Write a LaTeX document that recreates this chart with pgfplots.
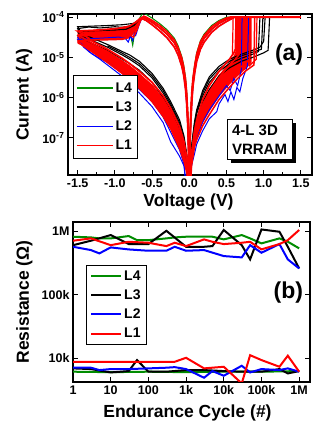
\documentclass[border=0pt]{standalone}
\usepackage{fontspec}
\setmainfont{Liberation Sans}
\usepackage{pgfplots}
\pgfplotsset{compat=1.18}
\usetikzlibrary{shadows}
\definecolor{cgreen}{RGB}{0,140,0}
\definecolor{cblue}{RGB}{0,0,255}
\definecolor{cred}{RGB}{255,0,0}
\tikzset{lbl/.style={font=\fontsize{17.5}{19}\selectfont\bfseries, anchor=center}}
\pgfplotsset{
  common/.style={
    scale only axis,
    axis line style={line width=1.8pt},
    tick align=inside,
    major tick length=5pt,
    minor tick length=3pt,
    every tick/.style={black, line width=1pt},
    tick label style={font=\fontsize{12.5}{14}\selectfont\bfseries},
    legend cell align=left,
  },
}
\begin{document}
\begin{tikzpicture}
\path[use as bounding box] (0pt,0pt) rectangle (329pt,426pt);
% ---------------- panel (a) ----------------
\begin{axis}[common,
  at={(68pt,251pt)}, anchor=south west, width=244pt, height=161pt,
  xmin=-1.63, xmax=1.65, ymode=log, ymin=1.2e-8, ymax=1.2e-4,
  xtick={-1.5,-1,-0.5,0,0.5,1,1.5},
  xticklabels={-1.5,-1.0,-0.5,0.0,0.5,1.0,1.5},
  minor xtick={-1.25,-0.75,-0.25,0.25,0.75,1.25},
  ytick={1e-7,1e-6,1e-5,1e-4},
  yticklabels={10\textsuperscript{-7},10\textsuperscript{-6},10\textsuperscript{-5},10\textsuperscript{-4}},
  yminorticks=false,
  xlabel={Voltage (V)}, ylabel={Current (A)},
  every axis x label/.style={at={(axis description cs:0.494,-0.168)}, lbl},
  every axis y label/.style={at={(axis description cs:-0.18,0.5)}, rotate=90, lbl},
  legend style={at={(axis description cs:0.02,0.62)}, anchor=north west,
    font=\fontsize{14}{15}\selectfont\bfseries, row sep=4pt, inner xsep=3pt, inner ysep=5pt},
  legend image code/.code={\draw[#1] (0pt,0pt) -- (36pt,0pt);},
]
\addlegendimage{color=cgreen, draw=cgreen, line width=1.6pt}\addlegendentry{L4}
\addlegendimage{color=black, draw=black, line width=1.6pt}\addlegendentry{L3}
\addlegendimage{color=cblue, draw=cblue, line width=1.6pt}\addlegendentry{L2}
\addlegendimage{color=cred, draw=cred, line width=1.6pt}\addlegendentry{L1}
% green (L4)
\addplot[cgreen, line width=1pt, forget plot] coordinates {
(0,1e-9) (-0.01,1.3e-7) (-0.02,4.5e-7) (-0.035,1.5e-6) (-0.05,3.2e-6) (-0.075,6.5e-6) (-0.1,1.05e-5) (-0.15,1.95e-5) (-0.2,3e-5) (-0.3,4.9e-5) (-0.4,7e-5) (-0.5,9.5e-5) (-0.58,1.18e-4) (-0.62,1.3e-4)
(-0.66,1e-4) (-0.72,6e-5) (-0.76,2e-5) (-0.78,3e-5) (-0.85,4e-5) (-1.0,4e-5) (-1.5,3.5e-5)
(-1.45,2.8e-5) (-1.3,1.9e-5) (-1.1,1.2e-5) (-0.9,6.8e-6) (-0.8,5e-6) (-0.67,3.1e-6) (-0.5,1.6e-6) (-0.35,7e-7) (-0.25,3.5e-7) (-0.13,1.2e-7) (-0.07,5e-8) (-0.03,2e-8) (0,1e-9)
(0.03,3e-8) (0.07,9e-8) (0.1,1.6e-7) (0.18,4.5e-7) (0.27,9.5e-7) (0.4,2.2e-6) (0.47,5e-6) (0.5,3e-6) (0.65,7e-6) (0.7,1e-5) (0.71,1e-4) (1.5,1e-4)
(0.5,1e-4) (0.4,8.3e-5) (0.3,6.2e-5) (0.2,3.8e-5) (0.15,2.6e-5) (0.1,1.3e-5) (0.075,7e-6) (0.05,3.2e-6) (0.035,1.5e-6) (0.02,4.5e-7) (0.01,1.2e-7) (0,1e-9)
};
% red filled bands (drawn under the individual lines)
\addplot[fill=cred, draw=none, forget plot] coordinates {
(-1.5,4.8e-5) (-1.2,4.9e-5) (-1.0,5.2e-5) (-0.85,5.8e-5) (-0.75,6.8e-5) (-0.68,8.5e-5) (-0.63,1e-4)
(-0.66,7.5e-5) (-0.72,4.5e-5) (-0.8,3e-5) (-0.9,2.7e-5) (-1.2,2.6e-5) (-1.5,2.4e-5)} -- cycle;
\addplot[fill=cred, draw=none, forget plot] coordinates {
(-1.5,3.6e-5) (-1.3,2.3e-5) (-1.1,1.45e-5) (-0.9,8.5e-6) (-0.8,6.3e-6) (-0.67,4e-6) (-0.5,2.1e-6) (-0.35,9.5e-7) (-0.25,4.8e-7) (-0.13,1.6e-7) (-0.07,7e-8) (-0.03,2.7e-8) (-0.01,1e-8)
(-0.03,1.3e-8) (-0.07,2.6e-8) (-0.13,5.5e-8) (-0.25,1.7e-7) (-0.35,3.4e-7) (-0.5,8e-7) (-0.67,1.7e-6) (-0.8,2.8e-6) (-0.9,4e-6) (-1.1,7.5e-6) (-1.3,1.35e-5) (-1.45,2e-5) (-1.5,2.2e-5)} -- cycle;
\addplot[fill=cred, draw=none, forget plot] coordinates {
(0.01,1e-8) (0.03,3.5e-8) (0.07,1.3e-7) (0.1,2.4e-7) (0.18,7.5e-7) (0.27,1.6e-6) (0.4,3.7e-6) (0.54,7.5e-6) (0.6,1.1e-5) (0.62,1.4e-5)
(0.63,1e-4) (0.84,1e-4) (0.84,7.5e-6) (0.75,5e-6) (0.65,3.4e-6) (0.54,2.1e-6) (0.4,1.05e-6) (0.27,4.5e-7) (0.18,2.3e-7) (0.1,1e-7) (0.07,6.5e-8) (0.03,2.2e-8) (0.01,1e-8)} -- cycle;
% black (L3)
\addplot[black, line width=1.1pt, forget plot] coordinates {
(0,1e-9) (-0.01,8e-8) (-0.02,3e-7) (-0.035,1e-6) (-0.05,2.2e-6) (-0.075,4.8e-6) (-0.1,8e-6) (-0.15,1.5e-5) (-0.2,2.3e-5) (-0.3,3.8e-5) (-0.4,5.5e-5) (-0.5,7.5e-5) (-0.58,9.2e-5) (-0.63,1e-4)
(-0.68,8.5e-5) (-0.75,7e-5) (-0.9,6.5e-5) (-1.1,6.2e-5) (-1.3,6e-5) (-1.5,5.8e-5)
(-1.45,4e-5) (-1.3,3e-5) (-1.1,2.1e-5) (-0.9,1.4e-5) (-0.8,1.15e-5) (-0.67,8e-6) (-0.5,4e-6) (-0.35,1.7e-6) (-0.25,8e-7) (-0.13,2.8e-7) (-0.07,1.1e-7) (-0.03,3.5e-8) (0,1e-9)
(0.03,6e-8) (0.07,2.5e-7) (0.1,5e-7) (0.18,1.5e-6) (0.27,3.3e-6) (0.4,6e-6) (0.54,9e-6) (0.7,1.2e-5) (0.85,1.5e-5) (0.95,1.8e-5) (1.0,2.5e-5) (1.02,1e-4) (1.5,1e-4)
(0.58,1e-4) (0.5,8.8e-5) (0.4,7e-5) (0.3,5e-5) (0.2,3e-5) (0.15,2e-5) (0.1,1e-5) (0.075,5.5e-6) (0.05,2.5e-6) (0.035,1.1e-6) (0.02,3e-7) (0.01,8e-8) (0,1e-9)
};
\addplot[black, line width=1.1pt, forget plot] coordinates {
(-0.63,1e-4) (-0.7,7e-5) (-0.8,6e-5) (-0.9,5.6e-5) (-1.0,5.8e-5) (-1.2,5.4e-5) (-1.35,5.7e-5) (-1.5,5.2e-5)
(-1.45,3.5e-5) (-1.3,2.6e-5) (-1.1,1.8e-5) (-0.9,1.15e-5) (-0.8,9e-6) (-0.67,6.2e-6) (-0.5,3.1e-6) (-0.35,1.3e-6) (-0.25,6.2e-7) (-0.13,2.1e-7) (-0.07,8.5e-8) (-0.03,3e-8) (0,1e-9)
(0.03,5e-8) (0.07,2e-7) (0.1,4e-7) (0.18,1.1e-6) (0.27,2.4e-6) (0.4,4.5e-6) (0.54,7e-6) (0.7,9.5e-6) (0.85,1.2e-5) (0.93,1.4e-5) (0.95,1e-4) (1.5,1e-4)
};
\addplot[black, line width=1.1pt, forget plot] coordinates {
(-0.63,1e-4) (-0.72,6.5e-5) (-0.85,5e-5) (-1.0,4.8e-5) (-1.3,4.6e-5) (-1.5,4.4e-5)
(-1.45,3.1e-5) (-1.3,2.2e-5) (-1.1,1.5e-5) (-0.9,9e-6) (-0.8,7e-6) (-0.67,4.8e-6) (-0.5,2.4e-6) (-0.35,1e-6) (-0.25,4.8e-7) (-0.13,1.6e-7) (-0.07,7e-8) (-0.03,2.5e-8) (0,1e-9)
(0.03,4e-8) (0.07,1.5e-7) (0.1,3e-7) (0.18,8e-7) (0.27,1.6e-6) (0.4,3.5e-6) (0.54,5.5e-6) (0.7,8e-6) (0.85,1e-5) (1.0,1.3e-5) (1.06,1.5e-5) (1.08,1e-4) (1.5,1e-4)
};
\addplot[black, line width=1.1pt, forget plot] coordinates {
(-1.1,1.95e-5) (-0.9,1.27e-5) (-0.8,1e-5) (-0.67,7e-6) (-0.5,3.5e-6) (-0.35,1.5e-6) (-0.25,7e-7) (-0.13,2.4e-7) (-0.07,9.5e-8) (-0.03,3.2e-8) (0,1e-9)
(0.03,5.5e-8) (0.07,2.2e-7) (0.1,4.5e-7) (0.18,1.3e-6) (0.27,2.9e-6) (0.4,5.2e-6) (0.54,8e-6) (0.7,1.1e-5) (0.85,1.35e-5) (0.97,1.6e-5) (0.99,1e-4)
};
% blue (L2)
\addplot[cblue, line width=1pt, forget plot] coordinates {
(0,1e-9) (-0.01,5e-8) (-0.02,2e-7) (-0.035,7e-7) (-0.05,1.6e-6) (-0.075,3.6e-6) (-0.1,6e-6) (-0.15,1.15e-5) (-0.2,1.8e-5) (-0.3,3.1e-5) (-0.4,4.6e-5) (-0.5,6.5e-5) (-0.58,8.3e-5) (-0.64,9.3e-5)
(-0.68,6e-5) (-0.72,3.5e-5) (-0.74,4e-5) (-0.76,2.6e-5) (-0.79,3.5e-5) (-0.82,2.4e-5) (-0.86,3e-5) (-0.95,3.2e-5) (-1.2,3e-5) (-1.5,2.8e-5)
(-1.45,2.2e-5) (-1.35,1.4e-5) (-1.2,9e-6) (-1.1,6.5e-6) (-0.9,3.4e-6) (-0.67,1.3e-6) (-0.5,6e-7) (-0.35,2.4e-7) (-0.25,8e-8) (-0.13,3.5e-8) (-0.07,2e-8) (0,1e-9)
(0.03,2e-8) (0.07,4e-8) (0.1,7e-8) (0.18,1.5e-7) (0.27,3e-7) (0.37,4.5e-7) (0.4,7e-7) (0.48,1.2e-6) (0.52,8e-7) (0.56,1.4e-6) (0.6,9e-7) (0.64,1.8e-6) (0.68,1.4e-6) (0.72,3e-6) (0.78,6e-6) (0.8,1e-4) (1.5,1e-4)
(0.61,1e-4) (0.5,7.8e-5) (0.4,6e-5) (0.3,4.2e-5) (0.2,2.4e-5) (0.15,1.6e-5) (0.1,8e-6) (0.075,4.3e-6) (0.05,1.9e-6) (0.035,8e-7) (0.02,2.2e-7) (0.01,6e-8) (0,1e-9)
};
\addplot[cblue, line width=1pt, forget plot] coordinates {
(-1.5,3.2e-5) (-1.42,1.8e-5) (-1.3,1.2e-5) (-1.1,7.5e-6) (-0.9,4e-6) (-0.67,1.6e-6) (-0.5,8e-7) (-0.35,3.3e-7) (-0.25,1.4e-7) (-0.13,5e-8) (-0.07,2.2e-8) (0,1e-9)
(0.03,2.5e-8) (0.07,6e-8) (0.1,1e-7) (0.18,2.5e-7) (0.27,5e-7) (0.4,1.1e-6) (0.5,2e-6) (0.55,1.5e-6) (0.6,3e-6) (0.65,2e-6) (0.7,5e-6) (0.71,1e-4)
};
% red (L1)
\addplot[cred, line width=1.7pt, forget plot] coordinates {
(0,1e-9) (-0.01,8e-8) (-0.02,3e-7) (-0.035,1e-6) (-0.05,2.2e-6) (-0.075,4.8e-6) (-0.1,8e-6) (-0.15,1.5e-5) (-0.2,2.3e-5) (-0.3,3.8e-5) (-0.4,5.5e-5) (-0.5,7.5e-5) (-0.58,9.2e-5) (-0.63,1e-4)
(-0.67,9e-5) (-0.72,7.5e-5) (-0.8,6e-5) (-0.95,5.3e-5) (-1.1,5e-5) (-1.3,4.7e-5) (-1.5,4.5e-5)
(-1.45,4e-5) (-1.3,2.5e-5) (-1.1,1.6e-5) (-0.9,9.5e-6) (-0.8,7e-6) (-0.67,4.5e-6) (-0.5,2.4e-6) (-0.35,1.1e-6) (-0.25,5.5e-7) (-0.13,1.9e-7) (-0.07,8e-8) (-0.03,3e-8) (0,1e-9)
(0.03,4e-8) (0.07,1.5e-7) (0.1,2.8e-7) (0.18,9e-7) (0.27,2e-6) (0.4,4.5e-6) (0.54,9e-6) (0.6,1.3e-5) (0.62,1.6e-5) (0.63,1e-4) (1.5,1e-4)
(0.58,1e-4) (0.5,8.8e-5) (0.4,7e-5) (0.3,5e-5) (0.2,3e-5) (0.15,2e-5) (0.1,1e-5) (0.075,5.5e-6) (0.05,2.5e-6) (0.035,1.1e-6) (0.02,3e-7) (0.01,8e-8) (0,1e-9)
};
% red LRS variants
\addplot[cred, line width=1.7pt, forget plot] coordinates {
(0,1e-9) (-0.01,5e-8) (-0.02,2e-7) (-0.035,7e-7) (-0.05,1.6e-6) (-0.075,3.6e-6) (-0.1,6e-6) (-0.15,1.15e-5) (-0.2,1.8e-5) (-0.3,3.1e-5) (-0.4,4.6e-5) (-0.5,6.5e-5) (-0.58,8.3e-5) (-0.64,9.3e-5)};
\addplot[cred, line width=1.7pt, forget plot] coordinates {
(0,1e-9) (-0.01,1.2e-7) (-0.02,4e-7) (-0.035,1.3e-6) (-0.05,2.8e-6) (-0.075,5.8e-6) (-0.1,9.5e-6) (-0.15,1.75e-5) (-0.2,2.7e-5) (-0.3,4.4e-5) (-0.4,6.3e-5) (-0.5,8.3e-5) (-0.58,1e-4) (-0.62,1.07e-4)};
\addplot[cred, line width=1.7pt, forget plot] coordinates {
(0.61,1e-4) (0.5,7.8e-5) (0.4,6e-5) (0.3,4.2e-5) (0.2,2.4e-5) (0.15,1.6e-5) (0.1,8e-6) (0.075,4.3e-6) (0.05,1.9e-6) (0.035,8e-7) (0.02,2.2e-7) (0.01,6e-8) (0,1e-9)};
\addplot[cred, line width=1.7pt, forget plot] coordinates {
(0.55,1e-4) (0.5,9.5e-5) (0.4,7.8e-5) (0.3,5.7e-5) (0.2,3.5e-5) (0.15,2.4e-5) (0.1,1.2e-5) (0.075,6.5e-6) (0.05,3e-6) (0.035,1.4e-6) (0.02,4e-7) (0.01,1e-7) (0,1e-9)};
% red reset branches
\addplot[cred, line width=1.5pt, forget plot] coordinates {
(-0.63,1e-4) (-0.68,7.5e-5) (-0.74,5.5e-5) (-0.82,4.3e-5) (-1.0,3.9e-5) (-1.2,3.6e-5) (-1.5,3.4e-5)};
\addplot[cred, line width=1.5pt, forget plot] coordinates {
(-0.63,1e-4) (-0.7,6e-5) (-0.76,4e-5) (-0.85,3e-5) (-1.0,2.9e-5) (-1.2,2.8e-5) (-1.5,2.6e-5)};
\addplot[cred, line width=1.5pt, forget plot] coordinates {
(-0.63,1e-4) (-0.66,8e-5) (-0.7,5e-5) (-0.75,3.2e-5) (-0.8,3.6e-5) (-0.9,4.5e-5) (-1.1,4.2e-5) (-1.3,3.9e-5) (-1.5,3.7e-5)};
% red negative HRS branches
\addplot[cred, line width=1.5pt, forget plot] coordinates {
(-1.5,2.4e-5) (-1.45,2.1e-5) (-1.3,1.35e-5) (-1.1,7.5e-6) (-0.9,4e-6) (-0.8,2.8e-6) (-0.67,1.7e-6) (-0.5,8e-7) (-0.35,3.4e-7) (-0.25,1.7e-7) (-0.13,5.5e-8) (-0.07,2.6e-8) (-0.03,1.3e-8) (0,1e-9)};
\addplot[cred, line width=1.5pt, forget plot] coordinates {
(-1.5,2.6e-5) (-1.45,2.4e-5) (-1.3,1.6e-5) (-1.1,9.5e-6) (-0.9,5.2e-6) (-0.8,3.8e-6) (-0.67,2.3e-6) (-0.5,1.15e-6) (-0.35,5e-7) (-0.25,2.5e-7) (-0.13,8.5e-8) (-0.07,3.8e-8) (-0.03,1.7e-8) (0,1e-9)};
\addplot[cred, line width=1.5pt, forget plot] coordinates {
(-1.5,3.5e-5) (-1.45,3.2e-5) (-1.3,2.2e-5) (-1.1,1.4e-5) (-0.9,8e-6) (-0.8,6e-6) (-0.67,3.8e-6) (-0.5,2e-6) (-0.35,9e-7) (-0.25,4.5e-7) (-0.13,1.5e-7) (-0.07,6.5e-8) (-0.03,2.5e-8) (0,1e-9)};
% red positive HRS branches with set jumps
\addplot[cred, line width=1.5pt, forget plot] coordinates {
(0,1e-9) (0.03,2e-8) (0.07,6e-8) (0.1,9e-8) (0.18,2e-7) (0.27,3.8e-7) (0.4,9e-7) (0.54,1.8e-6) (0.65,3e-6) (0.75,4.5e-6) (0.87,6.5e-6) (0.88,1e-4)};
\addplot[cred, line width=1.5pt, forget plot] coordinates {
(0,1e-9) (0.03,2.5e-8) (0.07,7.5e-8) (0.1,1.2e-7) (0.18,3e-7) (0.27,6e-7) (0.4,1.4e-6) (0.54,3e-6) (0.65,5e-6) (0.75,7e-6) (0.81,9e-6) (0.82,1e-4)};
\addplot[cred, line width=1.5pt, forget plot] coordinates {
(0,1e-9) (0.03,3.5e-8) (0.07,1.2e-7) (0.1,2.2e-7) (0.18,6.5e-7) (0.27,1.4e-6) (0.4,3.2e-6) (0.54,6.5e-6) (0.62,9e-6) (0.67,1.2e-5) (0.68,1e-4)};
\addplot[cred, line width=1.2pt, forget plot] coordinates {(0.58,1.1e-5) (0.59,1e-4)};
\addplot[cred, line width=1.2pt, forget plot] coordinates {(0.8,6e-6) (0.9,9e-6) (0.91,1e-4)};
\addplot[cred, line width=1.7pt, forget plot] coordinates {(0.55,1e-4) (1.5,1e-4)};
\node[draw=black, line width=0.8pt, fill=white, align=left, inner xsep=5pt, inner ysep=5pt,
  font=\fontsize{15}{19}\selectfont\bfseries,
  drop shadow={shadow xshift=3.5pt, shadow yshift=-3.5pt, fill=black, opacity=1}]
  at (axis description cs:0.785,0.22) {4-L 3D\\VRRAM};
\node[font=\fontsize{23}{24}\selectfont\bfseries] at (axis description cs:0.906,0.75) {(a)};
\end{axis}
% ---------------- panel (b) ----------------
\begin{axis}[common,
  at={(73pt,44pt)}, anchor=south west, width=237pt, height=160pt,
  xmode=log, ymode=log, xmin=1, xmax=1.94e6, ymin=4.2e3, ymax=1.39e6,
  xtick={1,10,100,1000,10000,100000,1000000},
  xticklabels={1,10,100,1k,10k,100k,1M},
  ytick={1e4,1e5,1e6}, yticklabels={10k,100k,1M},
  xminorticks=false, yminorticks=false,
  xlabel={Endurance Cycle (\#)}, ylabel={Resistance (Ω)},
  every axis x label/.style={at={(axis description cs:0.483,-0.194)}, lbl},
  every axis y label/.style={at={(axis description cs:-0.205,0.5)}, rotate=90, lbl},
  legend style={at={(axis description cs:0.055,0.73)}, anchor=north west,
    font=\fontsize{14}{15}\selectfont\bfseries, row sep=4pt, inner xsep=4pt, inner ysep=3pt},
  legend image code/.code={\draw[#1] (0pt,0pt) -- (30pt,0pt);},
]
\addlegendimage{draw=cgreen, line width=2pt}\addlegendentry{L4}
\addlegendimage{draw=black, line width=2pt}\addlegendentry{L3}
\addlegendimage{draw=cblue, line width=2pt}\addlegendentry{L2}
\addlegendimage{draw=cred, line width=2pt}\addlegendentry{L1}
\addplot[cgreen, line width=2pt, forget plot] coordinates {
(1,8.15e5) (3,7.95e5) (5,7.67e5) (10,7.67e5) (30,8.35e5) (50,7.2e5) (100,7.2e5) (300,7.67e5) (500,7.95e5) (1000,8.15e5) (3000,8.15e5) (5000,8.15e5) (10000,7.4e5) (30000,8.65e5) (50000,7.67e5) (100000,6.4e5) (300000,7.67e5) (500000,6.8e5) (1000000,5.34e5)};
\addplot[black, line width=2pt, forget plot] coordinates {
(1,6.0e5) (3,7.05e5) (10,8.65e5) (30,6.24e5) (100,6.24e5) (300,1.01e6) (1000,5.66e5) (3000,5.66e5) (5000,5.8e5) (10000,1.04e6) (30000,6.0e5) (50000,3.58e5) (100000,1.06e6) (300000,9.76e5) (500000,5.66e5) (1000000,2.58e5)};
\addplot[cblue, line width=2pt, forget plot] coordinates {
(1,5.66e5) (3,5.02e5) (5,4.45e5) (10,5.53e5) (30,5.14e5) (100,4.9e5) (300,4.9e5) (500,5.66e5) (1000,4.9e5) (3000,5.02e5) (10000,4.04e5) (30000,3.85e5) (50000,6.0e5) (100000,4.56e5) (300000,6.24e5) (500000,3.58e5) (1000000,2.58e5)};
\addplot[cred, line width=2pt, forget plot] coordinates {
(1,7.05e5) (3,7.67e5) (10,6.0e5) (30,6.78e5) (100,6.55e5) (300,5.8e5) (500,6.55e5) (1000,5.8e5) (3000,7.4e5) (5000,6.78e5) (10000,6.24e5) (30000,6.55e5) (50000,6.78e5) (100000,5.15e5) (300000,6.24e5) (500000,7.2e5) (1000000,1.04e6)};
\addplot[cgreen, line width=2pt, forget plot] coordinates {
(1,6.1e3) (10,6.0e3) (100,6.1e3) (1000,6.0e3) (10000,6.1e3) (100000,6.1e3) (1000000,6.24e3)};
\addplot[black, line width=2pt, forget plot] coordinates {
(1,6.88e3) (3,6.71e3) (10,5.94e3) (30,6.24e3) (50,9.3e3) (100,6.1e3) (300,6.1e3) (1000,6.47e3) (3000,6.47e3) (10000,6.24e3) (30000,6.1e3) (100000,6.1e3) (300000,6.71e3) (500000,5.73e3) (1000000,6.24e3)};
\addplot[cblue, line width=2pt, forget plot] coordinates {
(1,7.05e3) (3,7.05e3) (5,6.47e3) (10,6.71e3) (30,6.71e3) (100,6.88e3) (300,7.05e3) (500,7.2e3) (1000,6.71e3) (3000,4.9e3) (5000,6.24e3) (10000,5.27e3) (30000,7.57e3) (50000,5.94e3) (100000,6.71e3) (300000,6.47e3) (500000,6.88e3) (1000000,6.1e3)};
\addplot[cred, line width=2pt, forget plot] coordinates {
(1,8.75e3) (10,8.75e3) (100,8.75e3) (500,8.75e3) (1000,1.01e4) (3000,6.88e3) (10000,7.3e3) (30000,3.99e3) (50000,1.11e4) (100000,9.3e3) (300000,7.3e3) (500000,1.09e4) (1000000,6.1e3)};
\node[font=\fontsize{23}{24}\selectfont\bfseries] at (axis description cs:0.909,0.56) {(b)};
\end{axis}
\end{tikzpicture}
\end{document}
